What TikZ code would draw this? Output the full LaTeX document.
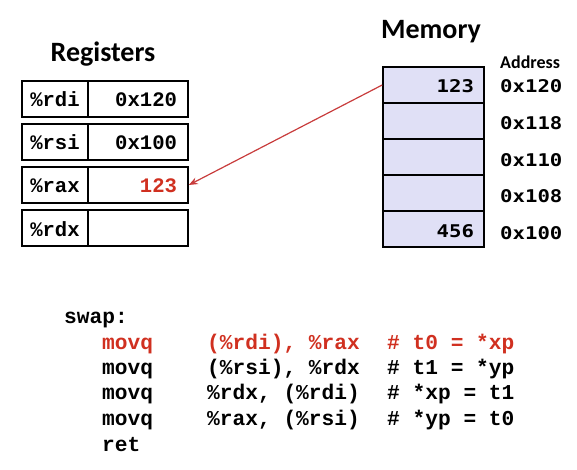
\documentclass[tikz,border=0pt]{standalone}
\usepackage{fontspec}
\setmainfont{Carlito}
\newfontfamily\codefont{Liberation Mono}
\newfontfamily\addrfont[FakeStretch=1.18]{DejaVu Sans Mono}
\usetikzlibrary{arrows.meta}
\definecolor{codered}{RGB}{208,48,32}
\definecolor{arrowred}{RGB}{200,60,60}
\definecolor{memfill}{RGB}{224,224,246}
\tikzset{
  cell/.style={draw=black, line width=1.6pt, minimum height=36pt, inner sep=0pt,
    font=\codefont\bfseries\fontsize{20.6}{24}\selectfont, text height=16pt, text depth=0pt},
  namecell/.style={cell, minimum width=66pt},
  valcell/.style={cell, minimum width=100pt, text width=78pt, align=right},
  memcell/.style={draw=black, line width=1.6pt, fill=memfill, minimum width=101pt, minimum height=36pt,
    inner sep=0pt, text width=81pt, align=right, text height=16pt, text depth=0pt,
    font=\addrfont\bfseries\fontsize{17.5}{20}\selectfont},
  title/.style={font=\bfseries\fontsize{28}{32}\selectfont, anchor=base, inner sep=0pt},
  addr/.style={font=\addrfont\bfseries\fontsize{17.5}{20}\selectfont, anchor=base west, inner sep=0pt},
  code/.style={font=\codefont\bfseries\fontsize{21.2}{25}\selectfont, anchor=base west, inner sep=0pt},
  redcode/.style={code, text=codered},
}
\begin{document}
\begin{tikzpicture}[x=1pt,y=-1pt]
\useasboundingbox (0,0) rectangle (577,470);
% titles
\node[title] (regtitle) at (103,62) {Registers};
\node[title] (memtitle) at (431,39) {Memory};
\node[addr, font=\bfseries\fontsize{18}{20}\selectfont] (addrtitle) at (500,69) {Address};
% registers
\node[namecell] (n1) at (55,99) {\%rdi};
\node[valcell]  (v1) at (138,99) {0x120};
\node[namecell] (n2) at (55,142) {\%rsi};
\node[valcell]  (v2) at (138,142) {0x100};
\node[namecell] (n3) at (55,185) {\%rax};
\node[valcell, text=codered]  (v3) at (138,185) {123};
\node[namecell] (n4) at (55,228) {\%rdx};
\node[valcell]  (v4) at (138,228) {};
% memory
\node[memcell] (m1) at (433.5,85) {123};
\node[memcell] (m2) at (433.5,121) {};
\node[memcell] (m3) at (433.5,157) {};
\node[memcell] (m4) at (433.5,193) {};
\node[memcell] (m5) at (433.5,229) {456};
% addresses
\node[addr] (a1) at (500,93) {0x120};
\node[addr] (a2) at (500,130) {0x118};
\node[addr] (a3) at (500,167) {0x110};
\node[addr] (a4) at (500,203) {0x108};
\node[addr] (a5) at (500,239) {0x100};
% arrow
\draw[arrowred, line width=1.2pt, -{Stealth[length=9pt,width=7pt]}] (m1.west) -- (v3.east);
% code
\node[code] (swap) at (64,323) {swap:};
\node[redcode] (i1) at (102,349) {movq};
\node[redcode] (o1) at (207,349) {(\%rdi), \%rax};
\node[redcode] (c1) at (387,349) {\# t0 = *xp};
\node[code] (i2) at (102,374) {movq};
\node[code] (o2) at (207,374) {(\%rsi), \%rdx};
\node[code] (c2) at (387,374) {\# t1 = *yp};
\node[code] (i3) at (102,399) {movq};
\node[code] (o3) at (207,399) {\%rdx, (\%rdi)};
\node[code] (c3) at (387,399) {\# *xp = t1};
\node[code] (i4) at (102,425) {movq};
\node[code] (o4) at (207,425) {\%rax, (\%rsi)};
\node[code] (c4) at (387,425) {\# *yp = t0};
\node[code] (i5) at (102,451) {ret};
\end{tikzpicture}
\end{document}
